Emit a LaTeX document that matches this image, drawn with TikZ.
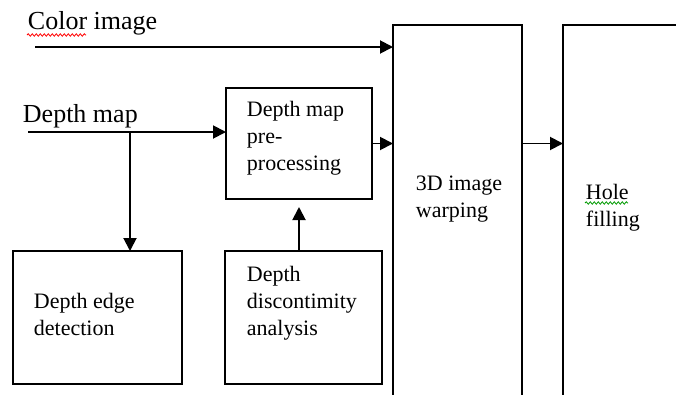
\documentclass[tikz,border=0pt]{standalone}
\usepackage{fontspec}
\setmainfont{Liberation Serif}
\usetikzlibrary{positioning}
\usetikzlibrary{arrows.meta}
\usetikzlibrary{decorations.pathmorphing}

\begin{document}
\begin{tikzpicture}[x=1pt,y=-1pt,
    line width=1.9pt,
    block/.style={draw,anchor=north west,inner sep=0pt,outer sep=0pt},
    blocktext/.style={anchor=north west,inner sep=0pt,align=left,
                      font=\fontsize{22}{27}\selectfont},
    inlabel/.style={anchor=base west,inner sep=0pt,font=\fontsize{26}{30}\selectfont},
    arr/.style={-{Triangle[length=13pt,width=13pt]}},
    spell/.style={line width=0.8pt,decorate,
                  decoration={snake,amplitude=1.2pt,segment length=4pt}}]

    \useasboundingbox (0,0) rectangle (676,394);
    \clip (0,0) rectangle (676,394);

    \node (pre)  [block, minimum width=146pt, minimum height=111pt] at (226,88) {};
    \node (edge) [block, minimum width=169pt, minimum height=133pt] at (13,251) {};
    \node (disc) [block, minimum width=157pt, minimum height=133pt] at (225,251) {};
    \node (warp) [block, minimum width=129pt, minimum height=400pt] at (393,25) {};
    \node (hole) [block, minimum width=140pt, minimum height=400pt] at (563,25) {};

    \node (pretext)  [blocktext] at (246,100) {Depth map\\pre-\\processing};
    \node (edgetext) [blocktext] at (33,292) {Depth edge\\detection};
    \node (disctext) [blocktext] at (246,265) {Depth\\discontimity\\analysis};
    \node (warptext) [blocktext] at (415,175) {3D image\\warping};
    \node (holetext) [blocktext] at (585,183) {Hole\\filling};

    \node (color) [inlabel] at (27,29) {Color image};
    \node (depth) [inlabel] at (22,122) {Depth map};

    \coordinate (cin) at (35,47);
    \coordinate (din) at (28,132);
    \coordinate (split) at (130,132);

    \draw[arr] (cin) -- (cin -| warp.west);
    \draw[arr] (din) -- (din -| pre.west);
    \draw[arr] (split) -- (split |- edge.north);
    \draw[arr, shorten >=8pt] (pre.south |- disc.north) -- (pre.south);
    \draw[arr] (pre.east) -- (pre.east -| warp.west);
    \draw[arr] (warp.east |- pre.east) -- (hole.west |- pre.east);

    \draw[spell, red] (27,35) -- (86,35);
    \draw[spell, green!60!black] (585,203) -- (628,203);

\end{tikzpicture}
\end{document}
